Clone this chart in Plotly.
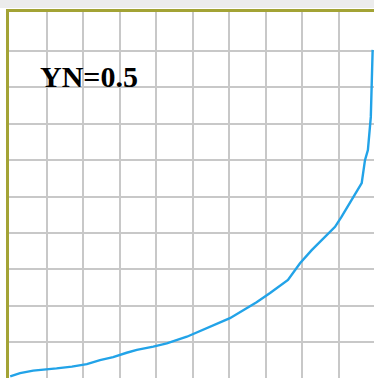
import plotly.graph_objects as go

# Curve samples (x, y) in grid units
x_vals = [0.0, 0.27, 0.63, 0.90, 1.27, 1.69, 2.10, 2.46, 2.82, 3.19, 3.47, 3.92,
          4.29, 4.84, 5.38, 6.02, 6.75, 7.12, 7.61, 7.94, 8.26, 8.63, 8.90, 9.08,
          9.36, 9.63, 9.72, 9.80, 9.88, 9.93]
y_vals = [0.06, 0.15, 0.22, 0.24, 0.28, 0.33, 0.40, 0.51, 0.59, 0.71, 0.79, 0.88,
          0.97, 1.15, 1.38, 1.66, 2.10, 2.35, 2.71, 3.17, 3.53, 3.90, 4.17, 4.45,
          4.91, 5.37, 6.00, 6.28, 7.19, 9.03]
grid_ticks = [1, 2, 3, 4, 5, 6, 7, 8, 9]
label_text = "YN=0.5"

fig = go.Figure()
fig.add_trace(go.Scatter(
    x=x_vals, y=y_vals, mode="lines",
    line=dict(color="#22a3e8", width=2.4),
    hoverinfo="skip", showlegend=False,
))

olive = "#a3a335"
fig.update_xaxes(
    range=[-0.033, 9.967], side="top",
    tickmode="array", tickvals=grid_ticks, showticklabels=False, ticks="",
    showgrid=True, gridcolor="#c8c8c8", gridwidth=2,
    showline=True, linecolor=olive, linewidth=3, mirror=False, zeroline=False,
)
fig.update_yaxes(
    range=[0.017, 10.071],
    tickmode="array", tickvals=grid_ticks, showticklabels=False, ticks="",
    showgrid=True, gridcolor="#c8c8c8", gridwidth=2,
    showline=True, linecolor=olive, linewidth=3, mirror=False, zeroline=False,
)

fig.add_annotation(
    x=0.75, y=7.79, xref="x", yref="y", xanchor="left", yanchor="bottom",
    text="<b>" + label_text + "</b>", showarrow=False,
    font=dict(family="Liberation Serif", size=30, color="black"),
)

# pale band above the frame
fig.add_shape(type="rect", xref="paper", yref="paper",
              x0=-0.05, x1=1.0, y0=1.011, y1=1.04,
              fillcolor="#ececec", line=dict(width=0), layer="below")

fig.update_layout(
    width=374, height=378,
    margin=dict(l=9, r=0, t=12, b=0),
    paper_bgcolor="white", plot_bgcolor="white",
)

fig.write_html("out.html", config={"displayModeBar": False})
